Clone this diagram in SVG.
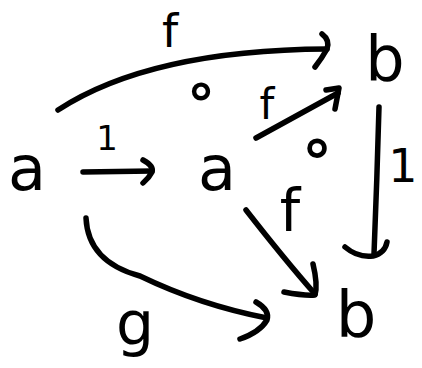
<svg xmlns="http://www.w3.org/2000/svg" width="422" height="368" viewBox="0 0 422 368">
<style>
.c{fill:none;stroke:#000;stroke-width:5.5;stroke-linecap:round;stroke-linejoin:round}
text{font-family:"DejaVu Sans",sans-serif;fill:#000;text-anchor:middle}
</style>
<rect width="422" height="368" fill="#fff"/>
<g id="a1"><text x="27" y="190" font-size="62">a</text></g>
<g id="a2"><text x="217" y="190" font-size="62">a</text></g>
<g id="b1"><text x="385" y="80" font-size="62">b</text></g>
<g id="b2"><text x="356" y="337" font-size="64">b</text></g>
<g id="connectors">
<path class="c" d="M58,110 Q150,50 327,49"/>
<path class="c" d="M322,34 Q330,40 327,49 Q322,58 315,67"/>
<path class="c" d="M83,172 L152,171"/>
<path class="c" d="M143,160 Q154,166 152,172 Q149,178 143,183"/>
<path class="c" d="M256,138 L338,93"/>
<path class="c" d="M326,90 L339,88 L335,109"/>
<path class="c" d="M379,107 Q377,180 374,254"/>
<path class="c" d="M345,247 Q358,258 373,256 Q385,253 387,242"/>
<path class="c" d="M246,210 Q285,260 315,294"/>
<path class="c" d="M313,264 Q318,285 315,295 Q305,296 284,292"/>
<path class="c" d="M86,218 Q88,262 140,276 Q200,305 267,318"/>
<path class="c" d="M256,302 Q270,310 267,320 Q260,332 240,339"/>
</g>
<g id="labels">
<text x="170" y="47" font-size="46">f</text>
<text x="267" y="119" font-size="42">f</text>
<text x="290" y="231" font-size="58">f</text>
<text x="135" y="344" font-size="60">g</text>
<text x="107" y="150" font-size="34">1</text>
<text x="403" y="182" font-size="46">1</text>
<text x="201" y="109" font-size="56" font-weight="bold">∘</text>
<text x="317" y="167" font-size="60" font-weight="bold">∘</text>
</g>
</svg>
